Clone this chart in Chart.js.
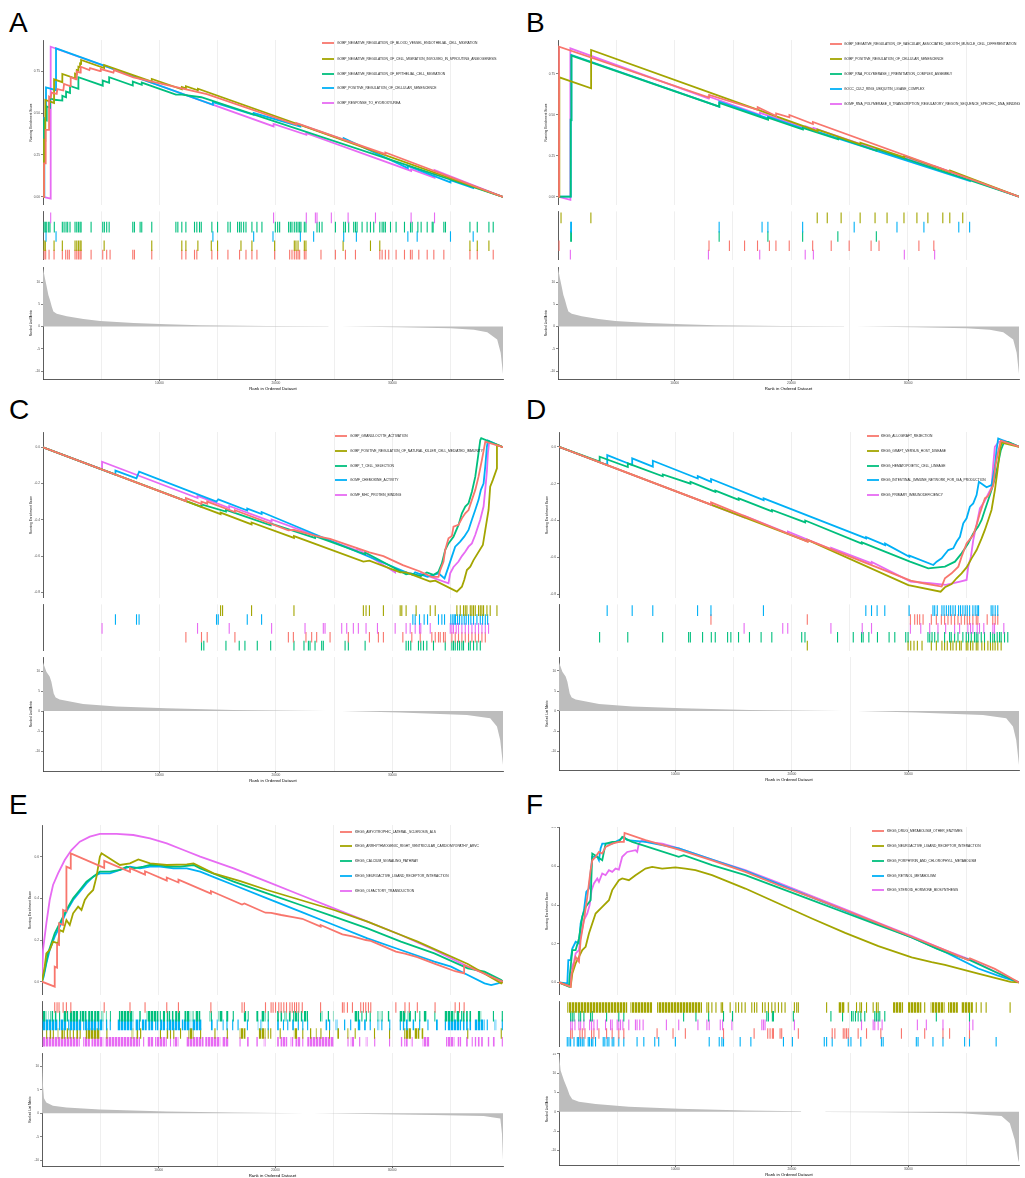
<!DOCTYPE html>
<html>
<head>
<meta charset="utf-8">
<title>GSEA running enrichment plots</title>
<script src="https://cdn.jsdelivr.net/npm/chart.js@4.4.1/dist/chart.umd.min.js"></script>
<style>
  html, body { margin: 0; padding: 0; background: #fff; }
  body { position: relative; width: 1025px; height: 1178px; overflow: hidden; font-family: "Liberation Sans", Arial, sans-serif; }
  canvas { position: absolute; }
  .tag { position: absolute; font-size: 28px; line-height: 28px; color: #000; }
</style>
</head>
<body>
<div class="tag" style="left:9px;top:9px">A</div>
<div class="tag" style="left:526px;top:9px">B</div>
<div class="tag" style="left:9px;top:396px">C</div>
<div class="tag" style="left:526px;top:396px">D</div>
<div class="tag" style="left:9px;top:791px">E</div>
<div class="tag" style="left:526px;top:791px">F</div>
<script>
const N = 39500;
const X_GRID = [5000, 10000, 15000, 20000, 25000, 30000, 35000];
const COLORS = ["#F8766D", "#A3A500", "#00BF7D", "#00B0F6", "#E76BF3"];

// ---------- panel A ----------
const namesA = [
  "GOBP_NEGATIVE_REGULATION_OF_BLOOD_VESSEL_ENDOTHELIAL_CELL_MIGRATION",
  "GOBP_NEGATIVE_REGULATION_OF_CELL_MIGRATION_INVOLVED_IN_SPROUTING_ANGIOGENESIS",
  "GOBP_NEGATIVE_REGULATION_OF_EPITHELIAL_CELL_MIGRATION",
  "GOBP_POSITIVE_REGULATION_OF_CELLULAR_SENESCENCE",
  "GOBP_RESPONSE_TO_HYDROXYUREA"
];
const esA_red = [[0,0],[90,0],[90,0.2],[230,0.2],[230,0.4],[520,0.4],[520,0.598],[660,0.592],[745,0.622],[1175,0.614],[1232,0.642],[1748,0.634],[1806,0.673],[2321,0.661],[2379,0.713],[2837,0.701],[2895,0.747],[3181,0.741],[3239,0.776],[3984,0.756],[4041,0.768],[4901,0.75],[4958,0.762],[6047,0.741],[6105,0.756],[7767,0.713],[14072,0.612],[21750,0.43],[21750,0.44],[29400,0.255],[29400,0.265],[39500,0]];
const esA_olive = [[0,0],[90,0],[90,0.34],[200,0.337],[200,0.578],[950,0.56],[950,0.701],[1660,0.684],[1660,0.733],[2750,0.707],[2750,0.735],[2900,0.731],[2900,0.756],[3040,0.753],[3040,0.776],[3180,0.773],[3180,0.795],[3270,0.793],[3270,0.816],[5250,0.768],[5250,0.786],[9340,0.687],[9340,0.703],[11920,0.641],[11920,0.655],[12270,0.647],[12270,0.66],[13300,0.635],[13300,0.645],[39500,0]];
const esA_green = [[0,0],[90,0],[90,0.459],[320,0.455],[320,0.539],[600,0.532],[600,0.588],[970,0.579],[1660,0.574],[1660,0.602],[1980,0.594],[1980,0.628],[2320,0.62],[2320,0.661],[3040,0.644],[3040,0.713],[5130,0.663],[5130,0.693],[5680,0.68],[5680,0.713],[7710,0.664],[7710,0.687],[8480,0.668],[8480,0.681],[11410,0.61],[11920,0.61],[13590,0.594],[39500,0]];
const esA_blue = [[0,0],[115,0],[115,0.47],[258,0.467],[258,0.653],[1118,0.636],[1118,0.885],[14590,0.549],[14590,0.565],[18090,0.489],[18090,0.5],[22100,0.42],[22100,0.43],[25820,0.34],[25820,0.35],[31330,0.172],[31330,0.185],[34990,0.087],[34990,0.1],[36940,0.053],[36940,0.065],[39500,0]];
const esA_pink = [[0,0],[660,-0.01],[660,0.895],[19800,0.42],[19800,0.435],[22610,0.37],[22610,0.38],[31610,0.155],[31610,0.165],[33620,0.115],[33620,0.16],[39500,0]];
const hitA_red = [90,230,520,950,1660,1950,2120,2260,2750,2900,3040,3180,3270,4130,5130,5470,5760,7710,7850,9340,11920,12270,13010,13210,14500,14990,15880,16880,17430,17940,18370,19890,21180,21380,21580,21750,21900,22040,22440,22580,23870,25110,25970,26830,28920,29120,29400,29690,30320,31040,31550,31700,32270,32990,33560,34420,36660,37290,38660];
const hitA_olive = [90,200,950,1660,2750,2900,3040,3180,3270,5250,9340,11920,12270,13300,14450,14990,17000,17940,19890,21580,21720,21900,22440,22580,25770,28120,28920,36660,37290,38290];
const hitA_green = [90,200,320,490,600,970,1660,1810,1980,2120,2320,2750,2900,3040,3180,3270,4130,5130,5270,5470,5680,7710,7850,8340,8480,9340,11410,11580,11920,12270,13010,13210,13440,13590,14500,14990,15880,16080,16710,16880,17020,17230,17430,17940,18370,18800,19950,20150,20320,21090,21240,21380,21580,21750,21900,22040,22150,22440,22580,23530,23730,23960,25110,25820,25970,26250,26680,26830,26970,27400,27830,28120,28400,28920,29120,29260,29400,29840,30320,31040,31560,31700,32190,32470,32990,33420,33500,34420,34560,36660,37290,38290,38660];
const hitA_blue = [260,1120,14590,18090,19750,22100,23240,25820,26910,31330,32130,34990,36940];
const hitA_pink = [660,19800,22610,23390,23530,24760,26200,28550,31610,33620];

// ---------- panel B ----------
const namesB = [
  "GOBP_NEGATIVE_REGULATION_OF_VASCULAR_ASSOCIATED_SMOOTH_MUSCLE_CELL_DIFFERENTIATION",
  "GOBP_POSITIVE_REGULATION_OF_CELLULAR_SENESCENCE",
  "GOBP_RNA_POLYMERASE_I_PREINITIATION_COMPLEX_ASSEMBLY",
  "GOCC_CUL2_RING_UBIQUITIN_LIGASE_COMPLEX",
  "GOMF_RNA_POLYMERASE_II_TRANSCRIPTION_REGULATORY_REGION_SEQUENCE_SPECIFIC_DNA_BINDING"
];
const esB_red = [[0,0],[90,0],[90,0.916],[12950,0.605],[12950,0.621],[17110,0.53],[17110,0.546],[18690,0.493],[18690,0.509],[19830,0.485],[19830,0.499],[21840,0.444],[21840,0.456],[39500,0]];
const esB_olive = [[0,0],[115,0],[115,0.729],[2837,0.662],[2837,0.896],[22230,0.4],[22230,0.41],[25910,0.32],[25910,0.33],[29670,0.24],[29670,0.25],[33600,0.15],[33600,0.16],[39500,0]];
const esB_green = [[0,0],[1090,0],[1090,0.47],[1150,0.469],[1150,0.862],[13820,0.55],[13820,0.572],[18000,0.47],[18000,0.482],[20980,0.41],[20980,0.42],[24000,0.35],[24000,0.36],[27300,0.28],[27300,0.29],[39500,0]];
const esB_blue = [[0,0],[1090,0],[1090,0.468],[1150,0.467],[1150,0.866],[13820,0.55],[13820,0.58],[18000,0.478],[18000,0.488],[20980,0.415],[20980,0.425],[35300,0.095],[35300,0.105],[39500,0]];
const esB_pink = [[0,0],[1060,-0.02],[1060,0.906],[12900,0.6],[12900,0.612],[17300,0.5],[17300,0.512],[21200,0.42],[21200,0.43],[21900,0.412],[21900,0.42],[29700,0.23],[29700,0.24],[32300,0.175],[32300,0.185],[39500,0]];
const hitB_red = [90,12950,14700,16000,17110,18130,18690,19830,21840,23430,24970,26850,27530,30950,32230];
const hitB_olive = [260,2820,22230,23090,24280,25910,27190,28220,29670,30780,31720,33000,33600,34710];
const hitB_green = [1090,1150,13820,18000,20980,24000,27300];
const hitB_blue = [1090,1150,13820,17500,18000,20980,25400,29070,31380,34370,35300];
const hitB_pink = [1060,12900,17300,21200,21900,29700,32300];

// ---------- panel C ----------
const namesC = [
  "GOBP_GRANULOCYTE_ACTIVATION",
  "GOBP_POSITIVE_REGULATION_OF_NATURAL_KILLER_CELL_MEDIATED_IMMUNITY",
  "GOBP_T_CELL_SELECTION",
  "GOMF_CHEMOKINE_ACTIVITY",
  "GOMF_MHC_PROTEIN_BINDING"
];
const esC_red = [[0,0],[12270,-0.297],[12270,-0.28],[13610,-0.313],[13610,-0.3],[14100,-0.311],[14100,-0.3],[16480,-0.357],[16480,-0.347],[21070,-0.458],[21500,-0.455],[23500,-0.49],[24650,-0.505],[28030,-0.58],[29230,-0.6],[30900,-0.65],[32390,-0.685],[33390,-0.715],[33960,-0.715],[34110,-0.677],[34390,-0.631],[34540,-0.566],[34820,-0.502],[35110,-0.489],[35250,-0.438],[35680,-0.428],[35970,-0.392],[36260,-0.364],[36540,-0.346],[36830,-0.29],[37120,-0.235],[37400,-0.162],[37690,-0.07],[37980,0.031],[39500,0]];
const esC_olive = [[0,0],[15250,-0.369],[15250,-0.36],[17910,-0.425],[17910,-0.415],[21550,-0.5],[21550,-0.49],[27510,-0.63],[28030,-0.625],[30670,-0.69],[31180,-0.69],[33250,-0.74],[33680,-0.735],[35540,-0.796],[35970,-0.769],[36170,-0.732],[36400,-0.677],[36690,-0.658],[36970,-0.622],[37770,-0.539],[37980,-0.456],[38260,-0.346],[38400,-0.217],[38630,-0.18],[38980,-0.116],[38980,0.013],[39500,0]];
const esC_green = [[0,0],[13610,-0.329],[13610,-0.315],[15710,-0.355],[15710,-0.345],[19550,-0.43],[19550,-0.42],[23360,-0.5],[23360,-0.49],[27660,-0.59],[27660,-0.58],[31180,-0.7],[31580,-0.695],[32440,-0.71],[32960,-0.69],[33530,-0.704],[33960,-0.686],[34250,-0.64],[34540,-0.566],[34820,-0.53],[35250,-0.493],[35680,-0.428],[35970,-0.364],[36260,-0.327],[36540,-0.309],[36830,-0.245],[37120,-0.162],[37320,-0.07],[37550,0.04],[37630,0.05],[39500,0]];
const esC_blue = [[0,0],[6220,-0.151],[6220,-0.129],[8025,-0.171],[8254,-0.134],[14900,-0.3],[15047,-0.287],[17540,-0.349],[17540,-0.338],[18772,-0.368],[18772,-0.357],[31755,-0.704],[31956,-0.69],[33016,-0.714],[33962,-0.695],[34478,-0.723],[34822,-0.658],[35109,-0.603],[35395,-0.548],[35825,-0.52],[36169,-0.493],[36542,-0.456],[36828,-0.4],[37115,-0.346],[37401,-0.29],[37602,-0.235],[37831,-0.2],[37975,-0.107],[38118,0.004],[38204,0.037],[39500,0]];
const esC_pink = [[0,0],[5070,-0.122],[5070,-0.08],[13270,-0.28],[13270,-0.268],[15990,-0.335],[15990,-0.324],[19630,-0.41],[19630,-0.398],[27000,-0.57],[27000,-0.56],[30240,-0.69],[30240,-0.675],[32440,-0.71],[32440,-0.695],[34820,-0.75],[34965,-0.695],[35252,-0.66],[35682,-0.63],[35969,-0.6],[36255,-0.576],[36542,-0.548],[36828,-0.53],[37115,-0.484],[37545,-0.4],[37831,-0.327],[37975,-0.235],[38118,-0.134],[38204,-0.033],[38318,0.031],[39500,0]];
const hitC_red = [12270,13610,14100,16480,21070,21500,22580,23070,23500,24650,26220,28030,28800,29230,30900,31670,32390,33390,33680,33960,34110,34390,34540,35110,35400,35680,35970,36260,36540,36830,37120,37400,37690,37980];
const hitC_olive = [15250,15420,17910,21550,27510,27740,28030,29230,30670,30810,31180,32040,33250,33680,35540,35830,36110,36260,36400,36690,36830,36970,37120,37400,37550,37690,37830,38120,38400,38980];
const hitC_green = [13610,13810,15710,16850,17340,18400,19550,21550,22410,22790,22930,23360,23930,24070,25940,26220,27660,31180,31380,31580,32240,32440,32670,32960,33530,34540,35110,35250,35400,35600,35770,35970,36110,36540,36690,36970,37260,37550];
const hitC_blue = [6220,8030,8250,14900,15050,17540,18770,31760,31960,32330,32730,33020,33960,34250,34480,35020,35190,35310,35420,35600,35770,35970,36170,36340,36540,36740,36970,37260,37550,37750,37980,38180];
const hitC_pink = [5070,13270,15990,19630,22500,24070,24220,25650,26080,26650,27080,27740,28720,30240,31180,31530,31960,32330,32440,33250,34970,35110,35250,35480,35680,35970,36260,36540,36830,37120,37400,37690,37980,38260];

// ---------- panel D ----------
const namesD = [
  "KEGG_ALLOGRAFT_REJECTION",
  "KEGG_GRAFT_VERSUS_HOST_DISEASE",
  "KEGG_HEMATOPOIETIC_CELL_LINEAGE",
  "KEGG_INTESTINAL_IMMUNE_NETWORK_FOR_IGA_PRODUCTION",
  "KEGG_PRIMARY_IMMUNODEFICIENCY"
];
const esD_red = [[0,0],[13060,-0.314],[13060,-0.302],[21340,-0.515],[21340,-0.505],[30200,-0.726],[31290,-0.74],[32860,-0.758],[33140,-0.713],[33710,-0.686],[34290,-0.65],[34570,-0.596],[35000,-0.524],[35570,-0.479],[35860,-0.424],[36140,-0.361],[36570,-0.28],[36860,-0.267],[37290,-0.208],[37490,-0.099],[37710,-0.027],[37940,0.033],[39500,0]];
const esD_olive = [[0,0],[21340,-0.513],[21340,-0.505],[30000,-0.75],[32770,-0.786],[33140,-0.762],[33710,-0.744],[34140,-0.713],[34570,-0.686],[35000,-0.654],[35430,-0.605],[35860,-0.56],[36290,-0.497],[36570,-0.451],[36860,-0.397],[37140,-0.343],[37430,-0.235],[37660,-0.126],[37860,-0.018],[38000,0.022],[39500,0]];
const esD_green = [[0,0],[3490,-0.081],[3490,-0.054],[5910,-0.11],[5910,-0.09],[8910,-0.16],[8910,-0.15],[11290,-0.2],[11290,-0.19],[13430,-0.245],[13430,-0.238],[15430,-0.288],[15430,-0.28],[18290,-0.35],[18290,-0.343],[21140,-0.41],[21140,-0.4],[26000,-0.525],[26000,-0.518],[30140,-0.623],[31710,-0.659],[33140,-0.65],[34000,-0.623],[34570,-0.578],[35140,-0.524],[35570,-0.47],[36000,-0.433],[36290,-0.397],[36570,-0.343],[36860,-0.289],[37140,-0.235],[37430,-0.172],[37710,-0.09],[37940,-0.018],[38230,0.027],[38570,0.027],[39500,0]];
const esD_blue = [[0,0],[4143,-0.099],[4143,-0.045],[6285,-0.099],[6285,-0.063],[8057,-0.108],[8057,-0.076],[11914,-0.172],[11914,-0.159],[13057,-0.19],[13057,-0.175],[17571,-0.289],[17571,-0.28],[26371,-0.497],[26371,-0.49],[28000,-0.533],[28000,-0.525],[30085,-0.596],[30085,-0.59],[32142,-0.641],[32428,-0.623],[32857,-0.605],[33428,-0.56],[33856,-0.551],[34142,-0.515],[34428,-0.488],[34714,-0.415],[35000,-0.388],[35285,-0.325],[35571,-0.307],[35856,-0.262],[36056,-0.19],[36713,-0.22],[37142,-0.208],[37428,-0.108],[37571,-0.018],[37714,0.045],[39500,0]];
const esD_pink = [[0,0],[15914,-0.383],[15914,-0.375],[19656,-0.47],[19656,-0.46],[23370,-0.556],[23370,-0.548],[26856,-0.632],[26856,-0.625],[30199,-0.731],[31856,-0.74],[33228,-0.749],[34428,-0.731],[35000,-0.722],[35142,-0.65],[35371,-0.596],[35571,-0.506],[35942,-0.397],[36142,-0.334],[36513,-0.298],[37142,-0.22],[37285,-0.099],[37428,0],[37771,0.027],[38228,0.033],[39500,0]];
const hitD_red = [13060,21340,30200,30570,30800,31000,31290,32000,32430,32860,33140,33430,33710,34000,34290,34570,34860,35090,35290,35570,35860,36000,36800,37280,37490,37710];
const hitD_olive = [21340,30000,30230,30510,30800,31200,32000,32430,32910,33140,33370,33660,33860,34140,34430,34570,35000,35140,35370,35570,35860,36000,36340,36570,36860,37080,37280,37480,37710,38000];
const hitD_green = [3490,5910,8910,11140,11290,12340,13090,13430,14490,14770,15430,16370,17370,18290,20860,21140,23940,25290,26000,26140,26630,27370,28370,28860,29800,30000,31710,31860,32060,32290,32570,33140,33570,33710,34000,34290,34710,35000,35200,35430,35710,35860,36000,36290,36570,37080,37280,37430,37660,37860,38000,38290,38570];
const hitD_blue = [4140,6290,8060,11910,13060,17570,26370,26860,27340,28000,30090,32140,32290,32510,32910,33090,33290,33490,33660,33860,34060,34340,34510,34710,34910,35090,35290,35570,35770,35940,36060,37140,37290,37490,37710];
const hitD_pink = [15910,19230,19660,23370,26060,26860,30200,31090,31860,32570,33230,34000,34430,35140,35370,35570,35940,36140,36510,37290,37430,38230];

// ---------- panel E ----------
const namesE = [
  "KEGG_AMYOTROPHIC_LATERAL_SCLEROSIS_ALS",
  "KEGG_ARRHYTHMOGENIC_RIGHT_VENTRICULAR_CARDIOMYOPATHY_ARVC",
  "KEGG_CALCIUM_SIGNALING_PATHWAY",
  "KEGG_NEUROACTIVE_LIGAND_RECEPTOR_INTERACTION",
  "KEGG_OLFACTORY_TRANSDUCTION"
];
const esE_red = [[0,0],[1089,-0.024],[1089,0.072],[1290,0.067],[1290,0.18],[1462,0.176],[1462,0.28],[1806,0.272],[1806,0.344],[2092,0.337],[2092,0.552],[2465,0.543],[2465,0.616],[5331,0.546],[5331,0.58],[7538,0.527],[7538,0.545],[8827,0.514],[8827,0.53],[10690,0.485],[10690,0.5],[11693,0.476],[11693,0.49],[14473,0.423],[14473,0.435],[17139,0.37],[17340,0.375],[19145,0.331],[19632,0.33],[20500,0.32],[21500,0.31],[22298,0.302],[23874,0.264],[23874,0.272],[25737,0.227],[26597,0.217],[27743,0.2],[28173,0.196],[30323,0.144],[31096,0.135],[32157,0.118],[33676,0.085],[35396,0.05],[36169,0.04],[36169,0.08],[39500,0]];
const esE_olive = [[0,0],[229,0.072],[373,0.136],[659,0.152],[946,0.192],[1376,0.184],[1519,0.248],[1806,0.24],[2092,0.296],[2379,0.272],[2665,0.328],[3095,0.36],[3382,0.344],[3668,0.392],[3955,0.416],[4385,0.44],[4671,0.504],[4958,0.6],[5101,0.616],[6678,0.56],[7538,0.568],[8254,0.587],[9257,0.568],[10690,0.56],[12410,0.563],[12983,0.568],[14702,0.52],[16995,0.483],[19288,0.44],[22154,0.392],[25020,0.344],[27886,0.288],[30752,0.224],[32185,0.192],[36484,0.085],[39350,-0.008],[39500,0]];
const esE_green = [[0,0],[229,0.056],[516,0.136],[802,0.184],[1089,0.232],[1519,0.28],[2092,0.344],[2665,0.4],[3239,0.44],[3812,0.48],[4385,0.504],[4958,0.528],[5818,0.528],[6678,0.536],[7251,0.552],[7824,0.544],[8684,0.552],[9257,0.56],[10117,0.56],[10690,0.552],[11836,0.552],[12983,0.56],[13556,0.544],[14989,0.512],[16422,0.48],[19288,0.424],[22154,0.368],[25020,0.312],[27886,0.256],[30752,0.192],[33618,0.136],[36484,0.064],[37917,0.048],[39350,0.008],[39500,0]];
const esE_blue = [[0,0],[143,0.024],[373,0.088],[659,0.152],[1089,0.216],[1519,0.264],[2092,0.336],[2665,0.392],[3239,0.432],[3812,0.472],[4385,0.504],[4958,0.52],[5818,0.52],[6678,0.536],[7538,0.552],[8397,0.544],[9257,0.552],[10117,0.552],[11263,0.544],[12410,0.544],[13556,0.528],[14989,0.496],[16422,0.464],[19288,0.4],[22154,0.336],[25020,0.272],[27886,0.208],[30752,0.152],[33618,0.096],[35051,0.072],[36484,0.032],[37917,-0.008],[38490,-0.016],[39063,-0.008],[39500,0]];
const esE_pink = [[0,0],[86,0.152],[373,0.28],[659,0.392],[946,0.464],[1376,0.52],[1949,0.584],[2522,0.632],[3239,0.672],[4098,0.696],[4958,0.709],[6391,0.709],[7824,0.704],[9257,0.688],[10690,0.664],[12123,0.632],[13556,0.6],[16422,0.544],[19288,0.48],[22154,0.416],[25020,0.352],[27886,0.288],[30752,0.224],[33618,0.152],[36484,0.072],[37917,0.04],[39500,0]];
// a number is one hit, a pair is a run of hits too dense to separate
const hitE_red = [1090,1290,1460,1810,2090,2470,5330,7540,8830,10690,11690,14470,17140,17340,19150,19630,19800,20010,20290,20490,20720,20950,21240,21440,21640,21810,22010,22300,23870,25740,25880,26170,26600,27310,27540,27740,27970,28170,30320,31100,31470,32160,33680,35400,35770,36170];
const hitE_olive = [[30,90],400,[660,800],970,[1290,1400],[1660,1950],[2090,2240],2410,2690,[2950,3100],3270,[3750,4960],5560,[7680,7820],[8110,8250],[8400,8540],10150,[10690,10830],11010,11290,11870,[12550,12980],13590,14820,15880,[16940,17430],[18570,19150],[19290,19430],19600,20410,[21580,21870],[22300,22440],[22960,23070],[23440,23530],23900,[24590,24680],[25310,25450],[26170,26310],[26740,26880],28490,29780,[31040,31610],[31900,32330],[32530,32700],36480,39350];
const hitE_green = [[90,370],[520,600],[720,950],[1090,1230],[1460,1580],[1810,2240],[2380,3100],[3240,3810],[3960,4390],[4470,4960],[5100,5250],[5470,5530],[5820,5900],[6590,7820],[7970,8050],[8340,8460],[8970,9970],[10060,10180],[10350,10550],[10690,10980],[11120,11260],[11410,11840],[12210,12700],[12840,12980],[13130,13560],[14360,14560],[15130,15510],[15790,15990],16390,[17280,17510],[17630,17710],[18370,18570],[18770,19150],[19290,19430],[20150,20290],[20440,20580],[20780,20950],[21150,21300],[21520,22010],[22150,22300],[22440,22790],[23820,24020],[24450,24590],[24930,25020],[26740,27170],27410,27790,[28030,28170],[28750,28890],[29030,29180],[29610,29750],[30610,31180],[31330,31610],[31900,32040],[32330,32470],[32700,32990],[33620,33760],[34480,35340],[35480,35770],[35910,36200],[36340,36480],[36630,36770],[37340,37630],38680,[39350,39490]];
const hitE_blue = [[0,1380],[1460,2090],[2240,3380],[3530,4670],[4760,5250],[5470,5590],5850,[6450,7820],[7970,8400],[8540,8970],[9110,9540],[9690,9970],[10120,10550],[10690,11840],[11980,12700],[12840,13700],[14470,14620],[14930,15050],[15420,15560],15850,16340,16800,17600,[18490,18570],[18720,18860],[19290,19430],[20150,20290],20690,[21010,21150],[21440,21580],[21870,22010],[22300,22440],22760,[24300,24450],[24590,24730],[25160,25310],[25880,26020],26450,[27030,27310],[27600,27740],[28030,28170],[28750,28890],29120,[29750,29890],[30610,30750],[30900,31040],[31180,31330],[31760,31900],32360,33070,[33760,33910],[34480,34620],[34760,35910],[36060,36200],[36340,36480],[36630,36770],[37060,37920],[38060,38200],[38780,38920],[39350,39490]];
const hitE_pink = [[0,3240],[3530,4100],[4240,5250],[5390,8400],8710,[9030,9540],[9690,10690],11010,[11260,11690],[12350,13840],[13990,15280],[15420,15990],16970,[17570,17710],[18370,18490],[19000,19150],[20150,20290],[20440,21010],[21300,21520],[21720,22150],[22300,22440],[22730,25020],26220,[26450,26740],[27170,27310],[27740,27890],[28460,28600],29780,[30750,30900],[31040,31330],[31610,31760],[32610,33190],[34620,35340],[35620,35910],[36340,36480],[36770,36910],[37060,37200],[37340,37490],[37630,37770],[38200,38350],[38630,38780],[39350,39490]];

// ---------- panel F ----------
const namesF = [
  "KEGG_DRUG_METABOLISM_OTHER_ENZYMES",
  "KEGG_NEUROACTIVE_LIGAND_RECEPTOR_INTERACTION",
  "KEGG_PORPHYRIN_AND_CHLOROPHYLL_METABOLISM",
  "KEGG_RETINOL_METABOLISM",
  "KEGG_STEROID_HORMONE_BIOSYNTHESIS"
];
const esF_red = [[0,0],[1000,-0.022],[1086,0.046],[1429,0.132],[1714,0.107],[1857,0.218],[2143,0.322],[2429,0.442],[2714,0.58],[2857,0.631],[3143,0.649],[3429,0.674],[3714,0.666],[4000,0.7],[4571,0.717],[5143,0.726],[5571,0.726],[5628,0.772],[7428,0.735],[10285,0.686],[13142,0.631],[16000,0.571],[18856,0.502],[21713,0.439],[24570,0.373],[27427,0.305],[30284,0.236],[33141,0.167],[35141,0.115],[35284,0.125],[37427,0.07],[39500,0]];
const esF_olive = [[0,0],[1000,-0.022],[1143,0.046],[1429,0.098],[1714,0.132],[2000,0.167],[2286,0.184],[2571,0.253],[3143,0.356],[3714,0.39],[4286,0.425],[4571,0.477],[5143,0.528],[5428,0.537],[6000,0.528],[6571,0.554],[7428,0.588],[8000,0.597],[8857,0.588],[10000,0.594],[10857,0.588],[11714,0.58],[13142,0.554],[16000,0.485],[18856,0.408],[21713,0.33],[24570,0.256],[27427,0.188],[30284,0.129],[32000,0.105],[33141,0.091],[35998,0.046],[38770,0.003],[39500,0]];
const esF_green = [[0,0],[857,-0.022],[914,0.029],[1143,0.167],[1429,0.167],[1714,0.227],[2000,0.339],[2286,0.39],[2714,0.425],[2857,0.666],[3286,0.649],[3714,0.631],[4000,0.717],[4571,0.726],[5143,0.726],[5428,0.752],[5714,0.743],[6286,0.726],[7428,0.704],[10285,0.649],[10714,0.657],[13142,0.606],[16000,0.554],[18856,0.49],[21713,0.425],[24570,0.36],[27427,0.296],[30284,0.232],[32427,0.175],[33141,0.158],[35284,0.115],[37427,0.055],[39500,0]];
const esF_blue = [[0,0],[714,-0.005],[800,0.115],[1000,0.115],[1143,0.175],[1429,0.21],[1714,0.201],[1857,0.305],[2143,0.373],[2343,0.468],[2571,0.485],[2857,0.649],[3286,0.649],[3429,0.631],[3571,0.692],[3714,0.717],[4571,0.717],[5143,0.735],[5571,0.752],[5857,0.735],[7428,0.726],[10285,0.692],[13142,0.635],[16000,0.576],[18856,0.508],[21713,0.439],[24570,0.37],[27427,0.301],[30284,0.232],[33141,0.158],[35998,0.072],[37570,0.038],[39500,0]];
const esF_pink = [[0,0],[914,-0.014],[1000,0.064],[1286,0.107],[1429,0.15],[1714,0.167],[1857,0.236],[2143,0.322],[2429,0.356],[2628,0.399],[2800,0.477],[3000,0.511],[3286,0.537],[3429,0.52],[3714,0.563],[4000,0.554],[4286,0.58],[4571,0.571],[4857,0.588],[5143,0.583],[5428,0.649],[5857,0.674],[6571,0.683],[6714,0.674],[6857,0.717],[7143,0.735],[7428,0.726],[8857,0.717],[10285,0.692],[13142,0.635],[16000,0.58],[18856,0.514],[21713,0.446],[24570,0.377],[27427,0.308],[30284,0.239],[33141,0.167],[35571,0.112],[37427,0.055],[39500,0]];
const hitF_red = [1000,1140,1800,2000,2230,2800,3000,3430,4090,4570,5140,5570,8430,9800,10860,14140,16770,17940,18140,18340,18430,19000,19140,20570,23480,23710,24430,24570,24710,24860,25710,26430,27660,29430,31430,33000,33570,35280];
const hitF_olive = [[710,5860],[6140,8000],[8430,12290],12710,12860,13140,13490,13940,14060,14710,15200,15430,15710,16000,16570,16800,17000,17490,17710,18000,18290,18570,18860,19140,19430,20230,20430,20570,23000,[24000,24570],24860,25570,25860,26000,26430,27000,27280,27430,[28710,29570],[30000,31140],31430,[31940,33140],[33430,34280],[34570,35570],35860,36280,36710,38770];
const hitF_green = [1000,1140,1290,1710,1860,2140,2710,2860,4090,5140,5570,10710,11770,12860,14140,14910,17860,18000,18340,18430,20140,23370,24370,25140,25280,25480,25710,25940,26280,27140,27280,27430,27570,28000,32430,35280];
const hitF_blue = [710,860,1000,1290,1570,1660,1710,1860,2000,2140,2510,2630,2800,2910,3140,3800,3940,4140,4290,4570,4710,5140,5570,6710,7290,8230,8570,10000,12910,13770,14000,14140,15570,16490,19290,20060,22800,23000,23480,24860,25090,25940,27710,27860,30710,30860,32140,33000,34860,35280,37570];
const hitF_pink = [1000,1140,1370,1710,1860,2140,2630,2800,3000,3290,4000,4430,4570,5000,5140,5290,5490,6000,6570,6710,6940,7230,9230,10290,11940,12710,12910,13860,14060,14860,17430,17570,17710,20230,26000,27000,27140,27430,27770,30800,31570,33000,35280,35570];

// ---------- ranked list metric ----------
const metricAB = [[0,13.2],[170,10.8],[315,9],[460,7.1],[600,6],[750,4.5],[890,3.4],[1180,2.9],[2040,2.3],[3470,1.7],[4900,1.26],[7770,0.8],[10630,0.5],[13500,0.3],[19230,0.15],[24530,0.05],[25000,null],[25540,0],[30690,-0.15],[35000,-0.4],[37000,-0.7],[38150,-1.3],[39000,-2.9],[39300,-5.9],[39500,-10.7]];
const metricCD = [[0,12.2],[290,9.8],[570,8.6],[720,7.3],[800,6.1],[920,4.4],[1090,3.4],[1430,2.9],[3440,1.75],[6300,1.1],[10600,0.67],[16340,0.25],[24300,0.02],[25000,null],[25650,-0.02],[30670,-0.4],[36400,-1],[38400,-1.8],[38980,-3.9],[39260,-7.25],[39500,-13.5]];
const metricE = [[0,12.5],[90,5.7],[170,3.2],[370,2.3],[940,1.6],[2090,1.2],[4950,0.8],[10670,0.36],[16390,0.14],[22540,0.02],[22900,null],[23250,-0.02],[27830,-0.14],[33550,-0.36],[37840,-0.57],[39270,-1.1],[39410,-4.3],[39500,-10]];
const metricF = [[0,15],[140,10.7],[430,8.1],[710,6],[910,4.3],[1140,3.2],[1710,2.6],[3140,2],[6000,1.3],[10290,0.77],[16000,0.34],[20800,0.1],[21800,null],[22860,-0.05],[27430,-0.17],[34570,-0.43],[38000,-1.1],[38710,-3],[39140,-7.3],[39430,-12.4],[39500,-13]];

// ---------- layout of the six panels ----------
const panels = [
  { L: 43, R: 503, colEnd: 512, es: [40, 205], hit: [205, 266], met: [267, 379],
    esY: [-0.048, 0.935], esTicks: [0, 0.25, 0.5, 0.75], dec: 2, metY: [-11.8, 13.4], metTicks: [-10, -5, 0, 5, 10],
    names: namesA, lines: [esA_red, esA_olive, esA_green, esA_blue, esA_pink],
    hits: [hitA_red, hitA_olive, hitA_green, hitA_blue, hitA_pink], rows: [4, 2, 3, 1, 0], metric: metricAB,
    legend: { x: 322, tx: 337, ys: [43, 59, 74, 88, 103] } },
  { L: 558, R: 1019, colEnd: 1025, es: [40, 205], hit: [205, 266], met: [267, 379],
    esY: [-0.051, 0.957], esTicks: [0, 0.25, 0.5, 0.75], dec: 2, metY: [-11.8, 13.4], metTicks: [-10, -5, 0, 5, 10],
    names: namesB, lines: [esB_red, esB_olive, esB_green, esB_blue, esB_pink],
    hits: [hitB_red, hitB_olive, hitB_green, hitB_blue, hitB_pink], rows: [1, 3, 2, 0, 4], metric: metricAB,
    legend: { x: 830, tx: 844, ys: [44, 59, 74, 89, 104] } },
  { L: 43, R: 503, colEnd: 512, es: [432, 598], hit: [598, 657], met: [657, 771],
    esY: [-0.831, 0.084], esTicks: [0, -0.2, -0.4, -0.6, -0.8], dec: 1, metY: [-15, 13.5], metTicks: [-10, -5, 0, 5, 10],
    names: namesC, lines: [esC_red, esC_olive, esC_green, esC_blue, esC_pink],
    hits: [hitC_red, hitC_olive, hitC_green, hitC_blue, hitC_pink], rows: [1, 3, 4, 0, 2], metric: metricCD,
    legend: { x: 335, tx: 350, ys: [436, 451, 466, 480, 495] } },
  { L: 559, R: 1019, colEnd: 1025, es: [432, 598], hit: [598, 657], met: [657, 770],
    esY: [-0.82, 0.08], esTicks: [0, -0.2, -0.4, -0.6, -0.8], dec: 1, metY: [-14.75, 13.5], metTicks: [-10, -5, 0, 5, 10],
    names: namesD, lines: [esD_red, esD_olive, esD_green, esD_blue, esD_pink],
    hits: [hitD_red, hitD_olive, hitD_green, hitD_blue, hitD_pink], rows: [3, 0, 4, 2, 1], metric: metricCD,
    legend: { x: 867, tx: 881, ys: [436, 451, 466, 480, 495] } },
  { L: 42, R: 503, colEnd: 512, es: [825, 995], hit: [995, 1053], met: [1053, 1166],
    esY: [-0.064, 0.752], esTicks: [0, 0.2, 0.4, 0.6], dec: 1, metY: [-11.2, 12.8], metTicks: [-10, -5, 0, 5, 10],
    names: namesE, lines: [esE_red, esE_olive, esE_green, esE_blue, esE_pink],
    hits: [hitE_red, hitE_olive, hitE_green, hitE_blue, hitE_pink], rows: [0, 2, 3, 1, 4], metric: metricE,
    legend: { x: 340, tx: 355, ys: [832, 846, 861, 876, 891] } },
  { L: 559, R: 1019, colEnd: 1025, es: [827, 995], hit: [995, 1053], met: [1053, 1165],
    esY: [-0.065, 0.803], esTicks: [0, 0.2, 0.4, 0.6, 0.8], dec: 1, metY: [-13.8, 15.2], metTicks: [-10, -5, 0, 5, 10, 15],
    names: namesF, lines: [esF_red, esF_olive, esF_green, esF_blue, esF_pink],
    hits: [hitF_red, hitF_olive, hitF_green, hitF_blue, hitF_pink], rows: [1, 2, 4, 0, 3], metric: metricF,
    legend: { x: 872, tx: 887, ys: [831, 846, 861, 876, 890] } }
];

Chart.defaults.font.family = '"Liberation Sans", Arial, sans-serif';
const AXIS_W = 14;
const X_AXIS_H = 12;
const TICK_FONT = { size: 3.2 };

// legend drawn inside the score panel, like ggplot's inset legend
const insetLegend = {
  id: "insetLegend",
  afterDraw(chart, args, opts) {
    const ctx = chart.ctx;
    ctx.save();
    ctx.font = '3.3px "Liberation Sans", Arial, sans-serif';
    ctx.textBaseline = "middle";
    opts.names.forEach((name, i) => {
      const y = opts.ys[i] - opts.top;
      ctx.strokeStyle = COLORS[i];
      ctx.lineWidth = 1.8;
      ctx.beginPath();
      ctx.moveTo(opts.x - opts.left, y);
      ctx.lineTo(opts.x - opts.left + 12, y);
      ctx.stroke();
      ctx.fillStyle = "#1a1a1a";
      ctx.fillText(name, opts.tx - opts.left, y);
    });
    ctx.restore();
  }
};

// dense runs of hits look like packed ticks, so paint them with thin stripes
function tickStripes(color) {
  const c = document.createElement("canvas");
  c.width = 3;
  c.height = 4;
  const g = c.getContext("2d");
  g.fillStyle = color;
  g.fillRect(0, 0, 2, 4);
  g.globalAlpha = 0.35;
  g.fillRect(2, 0, 1, 4);
  return g.createPattern(c, "repeat");
}

function xScale(labels) {
  return {
    type: "linear", min: 0, max: N,
    afterBuildTicks: s => { s.ticks = X_GRID.map(v => ({ value: v })); },
    grid: {
      color: "#ebebeb", lineWidth: 0.8, drawTicks: labels, tickLength: 2,
      tickColor: c => (c.tick && c.tick.value % 10000 === 0) ? "#333" : "rgba(0,0,0,0)"
    },
    border: { display: labels, color: "#333", width: 0.8 },
    ticks: { display: labels, font: TICK_FONT, color: "#4d4d4d", padding: 0.5, maxRotation: 0, autoSkip: false,
             callback: v => (v % 10000 === 0 ? String(v) : "") },
    title: { display: labels, text: "Rank in Ordered Dataset", font: { size: 4.3 }, color: "#000", padding: 0 },
    afterFit: s => { s.height = labels ? X_AXIS_H : 0; s.paddingLeft = 0; s.paddingRight = 0; }
  };
}

function yScale(range, ticks, fmt, title) {
  return {
    type: "linear", min: range[0], max: range[1],
    afterBuildTicks: s => { s.ticks = ticks.map(v => ({ value: v })); },
    grid: { drawOnChartArea: false, tickLength: 2, color: "#333", lineWidth: 0.6 },
    border: { display: true, color: "#333", width: 0.8 },
    ticks: { font: TICK_FONT, color: "#4d4d4d", padding: 1, callback: v => fmt(v) },
    title: { display: true, text: title, font: { size: 3.2 }, color: "#000", padding: 0 },
    afterFit: s => { s.width = AXIS_W; s.paddingTop = 0; s.paddingBottom = 0; }
  };
}

function makeCanvas(left, top, w, h) {
  const cv = document.createElement("canvas");
  cv.width = w;
  cv.height = h;
  cv.style.left = left + "px";
  cv.style.top = top + "px";
  document.body.appendChild(cv);
  return cv;
}

const baseOptions = { responsive: false, animation: false, devicePixelRatio: 1, events: [] };

function drawPanel(p) {
  const left = p.L - AXIS_W;
  const width = p.colEnd - left;
  const padding = { left: 0, right: p.colEnd - p.R, top: 0, bottom: 0 };

  // running enrichment score
  const esCanvas = makeCanvas(left, p.es[0], width, p.es[1] - p.es[0]);
  new Chart(esCanvas, {
    type: "scatter",
    data: {
      datasets: p.lines.map((pts, i) => ({
        label: p.names[i],
        data: pts.map(([x, y]) => ({ x, y })),
        showLine: true, borderColor: COLORS[i], borderWidth: 1.8,
        pointRadius: 0, tension: 0, fill: false
      }))
    },
    options: {
      ...baseOptions,
      layout: { padding },
      plugins: {
        legend: { display: false }, tooltip: { enabled: false },
        insetLegend: { names: p.names, x: p.legend.x, tx: p.legend.tx, ys: p.legend.ys, left, top: p.es[0] }
      },
      scales: {
        x: xScale(false),
        y: yScale(p.esY, p.esTicks, v => v.toFixed(p.dec), "Running Enrichment Score")
      }
    },
    plugins: [insetLegend]
  });

  // hit positions, one row per gene set
  const hitSets = [];
  p.rows.forEach((si, r) => {
    const row = r + 1;
    const singles = p.hits[si].filter(v => typeof v === "number").map(v => ({ x: v, y: row }));
    const runs = [];
    p.hits[si].filter(v => Array.isArray(v)).forEach(([a, b]) => {
      runs.push({ x: a, y: row }, { x: b, y: row }, { x: b, y: null });
    });
    hitSets.push({
      data: singles, showLine: false, pointStyle: "line", pointRotation: 90, pointRadius: 5.3,
      pointBorderColor: COLORS[si], pointBorderWidth: 1.1, pointBackgroundColor: COLORS[si]
    });
    if (runs.length) {
      hitSets.push({
        data: runs, showLine: true, spanGaps: false, borderColor: tickStripes(COLORS[si]),
        borderWidth: 10.6, borderCapStyle: "butt", pointRadius: 0, fill: false
      });
    }
  });
  const hitCanvas = makeCanvas(left, p.hit[0], width, p.hit[1] - p.hit[0]);
  new Chart(hitCanvas, {
    type: "scatter",
    data: { datasets: hitSets },
    options: {
      ...baseOptions,
      layout: { padding },
      plugins: { legend: { display: false }, tooltip: { enabled: false } },
      scales: {
        x: xScale(false),
        y: { type: "linear", min: 0.3, max: 5.5, reverse: true,
             ticks: { display: false }, grid: { display: false },
             border: { display: true, color: "#333", width: 0.8 },
             afterFit: s => { s.width = AXIS_W; s.paddingTop = 0; s.paddingBottom = 0; } }
      }
    }
  });

  // ranked list metric
  const metCanvas = makeCanvas(left, p.met[0], width, p.met[1] - p.met[0] + X_AXIS_H);
  new Chart(metCanvas, {
    type: "scatter",
    data: {
      datasets: [{
        data: p.metric.map(([x, y]) => ({ x, y })),
        showLine: true, spanGaps: false, fill: "origin",
        backgroundColor: "#bdbdbd", borderColor: "#bdbdbd", borderWidth: 0, pointRadius: 0, tension: 0
      }]
    },
    options: {
      ...baseOptions,
      layout: { padding },
      plugins: { legend: { display: false }, tooltip: { enabled: false } },
      scales: {
        x: xScale(true),
        y: yScale(p.metY, p.metTicks, v => String(v), "Ranked List Metric")
      }
    }
  });
}

panels.forEach(drawPanel);
</script>
</body>
</html>
